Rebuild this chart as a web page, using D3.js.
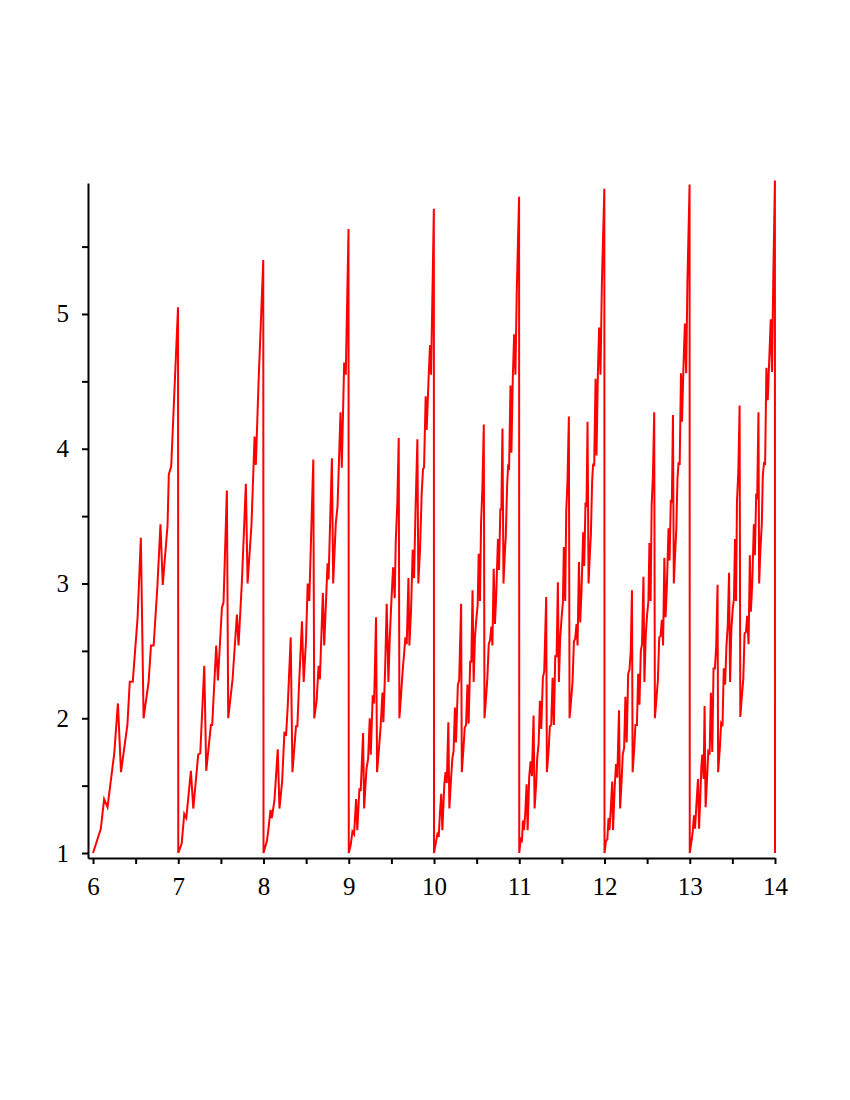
<!DOCTYPE html>
<html>
<head>
<meta charset="utf-8">
<script src="https://cdn.jsdelivr.net/npm/d3@7/dist/d3.min.js"></script>
<style>
  html, body { margin: 0; padding: 0; background: #ffffff; }
  svg { display: block; }
</style>
</head>
<body>
<svg id="chart" width="850" height="1100"></svg>
<script>
// ---- data: one array of [x, y] vertices per unit interval ----
const seg6 = [[6,1],[6.091,1.18],[6.13,1.4],[6.17,1.34],[6.249,1.74],[6.292,2.11],[6.328,1.6],[6.403,1.95],[6.431,2.27],[6.466,2.27],[6.522,2.74],[6.561,3.34],[6.593,2.0],[6.652,2.27],[6.68,2.54],[6.711,2.54],[6.755,2.98],[6.791,3.44],[6.818,2.99],[6.874,3.43],[6.889,3.81],[6.917,3.87],[6.997,5.05],[7,1]];

const seg7 = [[7,1],[7.04,1.07],[7.07,1.29],[7.094,1.26],[7.148,1.61],[7.176,1.33],[7.234,1.73],[7.258,1.74],[7.305,2.39],[7.328,1.61],[7.383,1.95],[7.398,1.95],[7.445,2.54],[7.465,2.28],[7.512,2.82],[7.531,2.86],[7.57,3.69],[7.586,2.0],[7.637,2.29],[7.688,2.77],[7.707,2.54],[7.746,3.01],[7.793,3.74],[7.813,3.0],[7.859,3.44],[7.895,4.09],[7.91,3.88],[7.941,4.48],[7.997,5.4],[8,1]];

const seg8 = [[8,1],[8.04,1.09],[8.058,1.18],[8.082,1.32],[8.097,1.26],[8.128,1.39],[8.167,1.77],[8.187,1.33],[8.218,1.53],[8.245,1.89],[8.265,1.88],[8.284,2.09],[8.319,2.6],[8.339,1.6],[8.381,1.94],[8.397,1.94],[8.416,2.24],[8.451,2.72],[8.471,2.27],[8.498,2.57],[8.518,3.0],[8.537,2.87],[8.556,3.3],[8.584,3.92],[8.595,2.0],[8.623,2.13],[8.646,2.39],[8.661,2.29],[8.696,2.93],[8.712,2.54],[8.751,3.15],[8.763,3.03],[8.802,3.93],[8.817,3.0],[8.848,3.45],[8.868,3.57],[8.903,4.27],[8.918,3.86],[8.946,4.64],[8.965,4.55],[8.997,5.63],[9,1]];

const seg9 = [[9,1],[9.023,1.06],[9.043,1.16],[9.062,1.14],[9.086,1.4],[9.1,1.17],[9.125,1.48],[9.14,1.46],[9.168,1.89],[9.18,1.33],[9.207,1.62],[9.227,1.7],[9.246,2.0],[9.258,1.73],[9.281,2.17],[9.297,2.11],[9.32,2.75],[9.332,1.6],[9.355,1.78],[9.375,1.95],[9.395,2.19],[9.406,1.97],[9.426,2.35],[9.445,2.85],[9.465,2.27],[9.48,2.58],[9.5,2.87],[9.52,3.12],[9.539,2.89],[9.551,3.31],[9.57,3.6],[9.586,4.08],[9.594,2.0],[9.613,2.17],[9.633,2.36],[9.648,2.47],[9.664,2.6],[9.68,2.55],[9.7,3.04],[9.711,2.54],[9.73,2.79],[9.75,3.25],[9.766,3.04],[9.781,3.49],[9.805,4.07],[9.816,3.0],[9.836,3.25],[9.855,3.66],[9.871,3.85],[9.883,3.86],[9.902,4.39],[9.914,4.14],[9.937,4.53],[9.953,4.77],[9.965,4.55],[9.98,5.09],[9.998,5.78],[10,1]];

const seg10 = [[10,1],[10.02,1.07],[10.04,1.14],[10.055,1.12],[10.07,1.3],[10.085,1.44],[10.098,1.17],[10.12,1.5],[10.135,1.6],[10.15,1.52],[10.168,1.97],[10.18,1.33],[10.2,1.55],[10.215,1.7],[10.23,1.76],[10.245,2.08],[10.258,1.82],[10.28,2.25],[10.295,2.28],[10.318,2.85],[10.326,1.6],[10.345,1.77],[10.36,1.93],[10.376,1.95],[10.392,2.25],[10.406,1.96],[10.424,2.42],[10.438,2.42],[10.452,2.95],[10.465,2.27],[10.48,2.6],[10.497,2.74],[10.512,2.84],[10.524,3.22],[10.539,2.87],[10.552,3.45],[10.567,3.7],[10.584,4.18],[10.592,2.0],[10.61,2.15],[10.626,2.3],[10.642,2.55],[10.657,2.58],[10.673,2.68],[10.685,2.54],[10.7,3.11],[10.715,2.7],[10.73,2.92],[10.75,3.33],[10.763,3.1],[10.778,3.55],[10.79,3.55],[10.803,4.15],[10.815,3.0],[10.83,3.22],[10.842,3.35],[10.857,3.72],[10.869,3.87],[10.881,3.86],[10.897,4.47],[10.908,3.97],[10.924,4.52],[10.94,4.85],[10.955,4.55],[10.97,5.15],[10.998,5.87],[11,1]];

const seg11 = [[11,1],[11.016,1.1],[11.031,1.08],[11.043,1.24],[11.055,1.17],[11.07,1.29],[11.086,1.51],[11.098,1.17],[11.117,1.57],[11.133,1.68],[11.148,1.57],[11.168,2.02],[11.18,1.33],[11.199,1.52],[11.211,1.71],[11.227,1.81],[11.242,2.13],[11.258,1.92],[11.277,2.3],[11.293,2.35],[11.316,2.9],[11.324,1.6],[11.344,1.76],[11.359,1.94],[11.375,1.95],[11.391,2.3],[11.406,1.95],[11.422,2.46],[11.438,2.46],[11.453,3.01],[11.465,2.27],[11.48,2.59],[11.496,2.74],[11.512,2.86],[11.523,3.27],[11.539,2.87],[11.551,3.54],[11.566,3.76],[11.582,4.24],[11.59,2.0],[11.609,2.14],[11.625,2.27],[11.641,2.57],[11.656,2.59],[11.672,2.7],[11.684,2.54],[11.7,3.16],[11.715,2.71],[11.73,2.94],[11.75,3.38],[11.762,3.13],[11.777,3.6],[11.789,3.57],[11.801,4.2],[11.813,3.0],[11.828,3.22],[11.84,3.36],[11.855,3.76],[11.867,3.89],[11.879,3.87],[11.895,4.52],[11.906,3.95],[11.922,4.55],[11.937,4.9],[11.953,4.55],[11.969,5.22],[11.998,5.93],[12,1]];

const seg12 = [[12,1],[12.017,1.09],[12.033,1.1],[12.047,1.26],[12.058,1.17],[12.074,1.33],[12.09,1.53],[12.1,1.17],[12.12,1.5],[12.135,1.66],[12.15,1.56],[12.17,2.06],[12.183,1.33],[12.2,1.53],[12.214,1.73],[12.23,1.78],[12.245,2.16],[12.26,1.82],[12.278,2.33],[12.293,2.36],[12.308,2.5],[12.322,2.95],[12.33,1.6],[12.348,1.77],[12.363,1.95],[12.38,1.95],[12.395,2.33],[12.41,2.1],[12.426,2.5],[12.44,2.55],[12.457,3.05],[12.468,2.27],[12.484,2.62],[12.5,2.77],[12.515,2.87],[12.527,3.3],[12.541,2.87],[12.553,3.58],[12.568,3.8],[12.583,4.27],[12.591,2.0],[12.61,2.15],[12.626,2.28],[12.642,2.6],[12.657,2.61],[12.673,2.73],[12.687,2.54],[12.702,3.19],[12.716,2.75],[12.731,2.97],[12.751,3.41],[12.763,3.17],[12.778,3.62],[12.79,3.6],[12.803,4.25],[12.813,3.0],[12.829,3.23],[12.842,3.4],[12.856,3.78],[12.869,3.9],[12.882,3.88],[12.897,4.56],[12.909,4.2],[12.925,4.58],[12.943,4.93],[12.958,4.56],[12.973,5.25],[12.998,5.96],[13,1]];

const seg13 = [[13,1],[13.019,1.08],[13.035,1.16],[13.05,1.28],[13.062,1.18],[13.078,1.36],[13.097,1.55],[13.109,1.18],[13.124,1.42],[13.136,1.64],[13.147,1.73],[13.163,1.55],[13.174,2.09],[13.186,1.34],[13.202,1.54],[13.217,1.75],[13.233,1.73],[13.248,2.19],[13.264,1.75],[13.279,2.37],[13.295,2.37],[13.31,2.53],[13.326,2.99],[13.333,1.6],[13.353,1.78],[13.368,1.96],[13.384,1.94],[13.399,2.37],[13.415,2.25],[13.43,2.53],[13.446,2.69],[13.461,3.08],[13.473,2.27],[13.488,2.66],[13.504,2.81],[13.519,2.89],[13.531,3.33],[13.543,2.87],[13.554,3.61],[13.57,3.83],[13.585,4.32],[13.593,2.01],[13.612,2.17],[13.628,2.29],[13.643,2.63],[13.659,2.64],[13.674,2.76],[13.69,2.55],[13.705,3.21],[13.717,2.79],[13.733,3.0],[13.752,3.44],[13.764,3.21],[13.779,3.65],[13.791,3.64],[13.806,4.27],[13.814,3.0],[13.829,3.25],[13.845,3.44],[13.857,3.8],[13.872,3.9],[13.884,3.88],[13.899,4.6],[13.915,4.36],[13.93,4.62],[13.95,4.96],[13.965,4.57],[13.98,5.27],[13.999,5.99],[14,1]];

const xTickValues = [6, 6.5, 7, 7.5, 8, 8.5, 9, 9.5, 10, 10.5, 11, 11.5, 12, 12.5, 13, 13.5, 14];
const yTickValues = [1, 1.5, 2, 2.5, 3, 3.5, 4, 4.5, 5, 5.5];

// ---- drawing ----
const svg = d3.select("#chart");
const x = d3.scaleLinear().domain([5.941, 14]).range([88, 775]);
const y = d3.scaleLinear().domain([0.963, 5.972]).range([858, 183]);

const points = [].concat(seg6, seg7, seg8, seg9, seg10, seg11, seg12, seg13);

svg.append("path")
  .datum(points)
  .attr("fill", "none")
  .attr("stroke", "#ff0000")
  .attr("stroke-width", 2)
  .attr("stroke-linejoin", "miter")
  .attr("d", d3.line().x(d => x(d[0])).y(d => y(d[1])));

const fmt = d => Number.isInteger(d) ? String(d) : "";

const xAxis = svg.append("g")
  .attr("transform", `translate(0,${y(0.963)})`)
  .call(d3.axisBottom(x).tickValues(xTickValues).tickSize(6).tickSizeOuter(0).tickPadding(13).tickFormat(fmt));

const yAxis = svg.append("g")
  .attr("transform", `translate(${x(5.941)},0)`)
  .call(d3.axisLeft(y).tickValues(yTickValues).tickSize(6).tickSizeOuter(0).tickPadding(13).tickFormat(fmt));

[xAxis, yAxis].forEach(g => {
  g.selectAll("path.domain").attr("stroke", "#000").attr("stroke-width", 2);
  g.selectAll(".tick line").attr("stroke", "#000").attr("stroke-width", 2);
  g.selectAll(".tick text")
    .attr("fill", "#000")
    .style("font-family", "'Liberation Serif', 'Times New Roman', serif")
    .style("font-size", "25px");
});
</script>
</body>
</html>
